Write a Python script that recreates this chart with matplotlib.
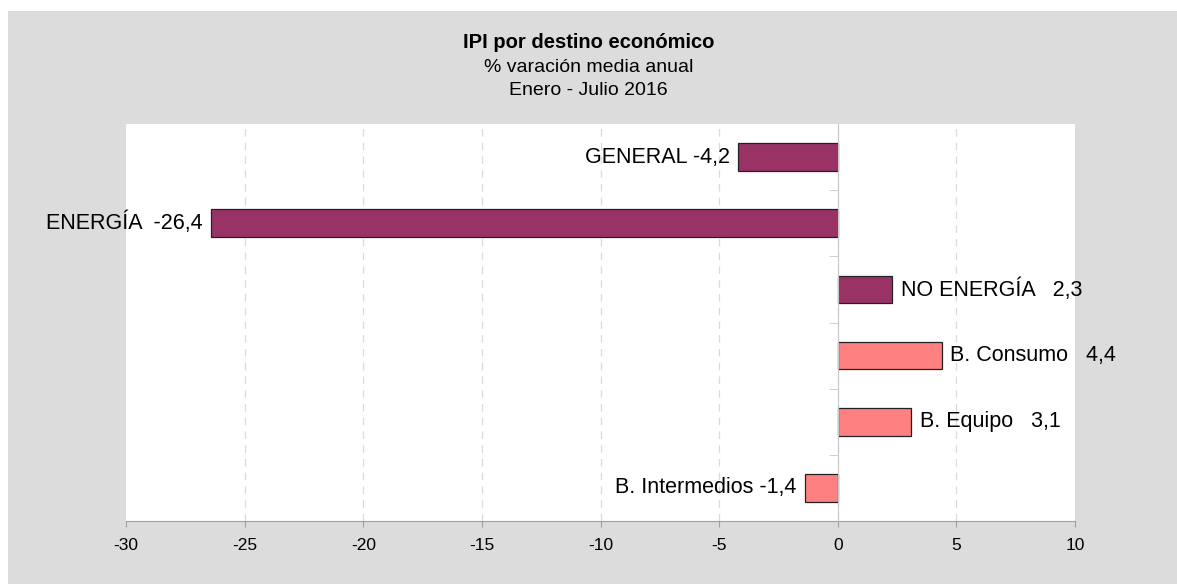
import matplotlib
matplotlib.use("Agg")
import matplotlib.pyplot as plt
from matplotlib.patches import Rectangle

# datos IPI por destino economico, Enero - Julio 2016
categorias = ["GENERAL", "ENERGÍA", "NO ENERGÍA", "B. Consumo", "B. Equipo", "B. Intermedios"]
valores = [-4.2, -26.4, 2.3, 4.4, 3.1, -1.4]
separadores = [" ", "  ", "   ", "   ", "   ", " "]
colores = ["#993366", "#993366", "#993366", "#FF8080", "#FF8080", "#FF8080"]
xticks = [-30, -25, -20, -15, -10, -5, 0, 5, 10]

plt.rcParams['font.family'] = ['Liberation Sans', 'DejaVu Sans']

fig = plt.figure(figsize=(11.77, 5.84), dpi=100)
fig.patch.set_facecolor("white")
# panel gris de fondo
fig.patches.append(Rectangle((8 / 1177, 0), 1 - 8 / 1177, 1 - 11 / 584,
                             transform=fig.transFigure, facecolor="#DCDCDC",
                             edgecolor="none", zorder=-10))

ax = fig.add_axes([126 / 1177, 63 / 584, 949 / 1177, 397 / 584])
ax.set_facecolor("white")

pos = list(range(len(categorias)))
ax.barh(pos, valores, height=0.42, color=colores, edgecolor="#222222",
        linewidth=0.9, zorder=3)

for i, v in enumerate(valores):
    txt = categorias[i] + separadores[i] + ("%.1f" % v).replace(".", ",")
    if v < 0:
        ax.annotate(txt, (v, i), xytext=(-6, 0), textcoords="offset points",
                    ha="right", va="center", fontsize=15.5, annotation_clip=False)
    else:
        ax.annotate(txt, (v, i), xytext=(6, 0), textcoords="offset points",
                    ha="left", va="center", fontsize=15.5, annotation_clip=False)

ax.set_xlim(-30, 10)
ax.set_ylim(len(categorias) - 0.5, -0.5)
ax.set_xticks(xticks)
ax.set_xticklabels([str(t) for t in xticks], fontsize=12.5)
ax.tick_params(axis="x", length=4, color="#A0A0A0", pad=8)

ax.set_yticks([])
ax.set_yticks([p + 0.5 for p in pos[:-1]], minor=True)
ax.tick_params(axis="y", which="minor", length=6.5, color="#C8C8C8", direction="out")

ax.xaxis.grid(True, linestyle=(0, (6, 5)), color="#DADADA", linewidth=0.9, zorder=0)
gl = ax.get_xgridlines()
gl[0].set_visible(False)
gl[-1].set_visible(False)

for s in ["top", "right"]:
    ax.spines[s].set_visible(False)
ax.spines["left"].set_position(("data", 0))
ax.spines["left"].set_color("#C8C8C8")
ax.spines["left"].set_zorder(4)
ax.spines["bottom"].set_color("#A0A0A0")

fig.text(0.5, 1 - 43 / 584, "IPI por destino económico", ha="center", va="center",
         fontsize=14.5, fontweight="bold")
fig.text(0.5, 1 - 67 / 584, "% varación media anual", ha="center", va="center", fontsize=14)
fig.text(0.5, 1 - 90 / 584, "Enero - Julio 2016", ha="center", va="center", fontsize=14)

fig.savefig("out.png", dpi=100)
